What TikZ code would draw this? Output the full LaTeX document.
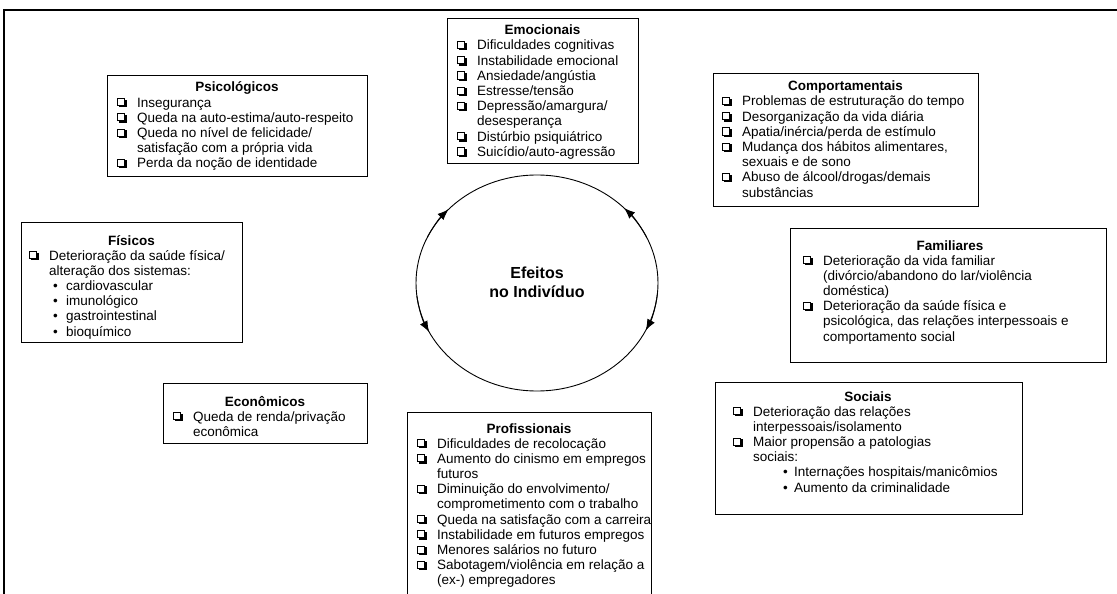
\documentclass[tikz,border=0pt]{standalone}
\usepackage{fontspec}
\setmainfont{Liberation Sans}
\usetikzlibrary{arrows.meta}
\setlength\unitlength{1pt}
\newcommand\cbx{\makebox[20pt][l]{\begin{picture}(10,9)
\put(1.7,-0.4){\rule{7.8pt}{7.8pt}}
\put(0,1.1){\textcolor{white}{\rule{7.8pt}{7.8pt}}}
\put(0,1.1){\rule{7.8pt}{0.7pt}}
\put(0,8.2){\rule{7.8pt}{0.7pt}}
\put(0,1.1){\rule{0.7pt}{7.8pt}}
\put(7.1,1.1){\rule{0.7pt}{7.8pt}}
\end{picture}}}
\newcommand\bul[2]{\hspace*{#1}\makebox[#2][l]{\textbullet}}
\newcommand\lstab[1]{\begin{tabular}[t]{@{}l@{}l@{}}#1\end{tabular}}
\begin{document}
\begin{tikzpicture}[x=1pt,y=1pt,
  box/.style={draw, line width=1.1pt, inner sep=0pt, anchor=north west},
  ttl/.style={font=\bfseries\fontsize{13.5}{15.2}\selectfont, inner sep=0pt, anchor=base},
  lst/.style={font=\fontsize{13.5}{15.2}\selectfont, inner sep=0pt, anchor=base west},
  tip/.style={-{Latex[length=11pt,width=8.5pt]}, line width=0.9pt},
]
\useasboundingbox (0,0) rectangle (1117,-594);
\fill[white] (0,0) rectangle (1117,-594);
\draw[line width=1.6pt] (1120,-10) -- (4,-10) -- (4,-600);

% Emocionais
\node[box, minimum width=191pt, minimum height=145pt] (emo) at (447,-18) {};
\node[ttl] (emoT) at (542.5,-35) {Emocionais};
\node[lst] (emoL) at (457,-50) {\lstab{\cbx&Dificuldades cognitivas\\
\cbx&Instabilidade emocional\\
\cbx&Ansiedade/angústia\\
\cbx&Estresse/tensão\\
\cbx&Depressão/amargura/\\
&desesperança\\
\cbx&Distúrbio psiquiátrico\\
\cbx&Suicídio/auto-agressão}};

% Psicologicos
\node[box, minimum width=260pt, minimum height=101pt] (psi) at (107,-75) {};
\node[ttl] (psiT) at (237,-92) {Psicológicos};
\node[lst] (psiL) at (117,-107) {\lstab{\cbx&Insegurança\\
\cbx&Queda na auto-estima/auto-respeito\\
\cbx&Queda no nível de felicidade/\\
&satisfação com a própria vida\\
\cbx&Perda da noção de identidade}};

% Comportamentais
\node[box, minimum width=265pt, minimum height=133pt] (com) at (713,-73) {};
\node[ttl] (comT) at (845.5,-91) {Comportamentais};
\node[lst] (comL) at (722,-106) {\lstab{\cbx&Problemas de estruturação do tempo\\
\cbx&Desorganização da vida diária\\
\cbx&Apatia/inércia/perda de estímulo\\
\cbx&Mudança dos hábitos alimentares,\\
&sexuais e de sono\\
\cbx&Abuso de álcool/drogas/demais\\
&substâncias}};

% Fisicos
\node[box, minimum width=221pt, minimum height=120pt] (fis) at (21,-222) {};
\node[ttl] (fisT) at (131.5,-245) {Físicos};
\node[lst] (fisL) at (29,-260) {\lstab{\cbx&Deterioração da saúde física/\\
&alteração dos sistemas:\\
&\bul{4pt}{13pt}cardiovascular\\
&\bul{4pt}{13pt}imunológico\\
&\bul{4pt}{13pt}gastrointestinal\\
&\bul{4pt}{13pt}bioquímico}};

% Familiares
\node[box, minimum width=316pt, minimum height=134pt] (fam) at (790,-228) {};
\node[ttl] (famT) at (950,-250) {Familiares};
\node[lst] (famL) at (803,-265) {\lstab{\cbx&Deterioração da vida familiar\\
&(divórcio/abandono do lar/violência\\
&doméstica)\\
\cbx&Deterioração da saúde física e\\
&psicológica, das relações interpessoais e\\
&comportamento social}};

% Economicos
\node[box, minimum width=204pt, minimum height=60pt] (eco) at (163,-383) {};
\node[ttl] (ecoT) at (265,-406) {Econômicos};
\node[lst] (ecoL) at (173,-421) {\lstab{\cbx&Queda de renda/privação\\
&econômica}};

% Profissionais
\node[box, minimum width=244pt, minimum height=200pt] (pro) at (407,-412) {};
\node[ttl] (proT) at (529,-433) {Profissionais};
\node[lst] (proL) at (417,-448) {\lstab{\cbx&Dificuldades de recolocação\\
\cbx&Aumento do cinismo em empregos\\
&futuros\\
\cbx&Diminuição do envolvimento/\\
&comprometimento com o trabalho\\
\cbx&Queda na satisfação com a carreira\\
\cbx&Instabilidade em futuros empregos\\
\cbx&Menores salários no futuro\\
\cbx&Sabotagem/violência em relação a\\
&(ex-) empregadores}};

% Sociais
\node[box, minimum width=307pt, minimum height=132pt] (soc) at (715,-382) {};
\node[ttl] (socT) at (868,-401) {Sociais};
\node[lst] (socL) at (733,-416) {\lstab{\cbx&Deterioração das relações\\
&interpessoais/isolamento\\
\cbx&Maior propensão a patologias\\
&sociais:\\
&\bul{30pt}{11pt}Internações hospitais/manicômios\\
&\bul{30pt}{11pt}Aumento da criminalidade}};

% Circle
\draw[line width=0.9pt] (537,-283) ellipse [x radius=121, y radius=108];
\node[font=\bfseries\fontsize{16}{19}\selectfont, align=center, inner sep=0pt] (ef) at (537,-282) {Efeitos\\no Indivíduo};
\draw[tip] (537,-283) ++(155:121 and 108) arc[start angle=155, end angle=137, x radius=121, y radius=108];
\draw[tip] (537,-283) ++(25:121 and 108) arc[start angle=25, end angle=44, x radius=121, y radius=108];
\draw[tip] (537,-283) ++(187:121 and 108) arc[start angle=187, end angle=207, x radius=121, y radius=108];
\draw[tip] (537,-283) ++(-6:121 and 108) arc[start angle=-6, end angle=-26, x radius=121, y radius=108];
\end{tikzpicture}
\end{document}
